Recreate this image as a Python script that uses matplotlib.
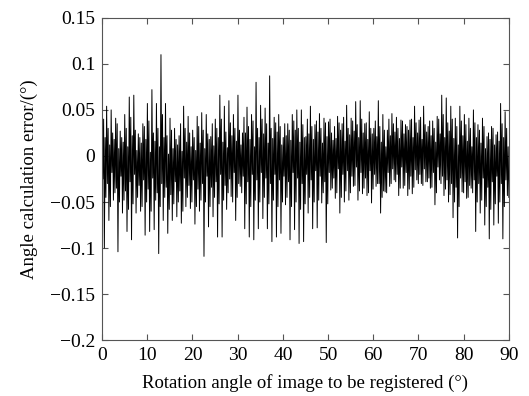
import numpy as np
import matplotlib
matplotlib.use('Agg')
import matplotlib.pyplot as plt

plt.rcParams['font.family'] = ['Liberation Serif', 'DejaVu Serif']

# upper spike of each 1-degree step (deg 0..89)
peak_hi = [0.097, 0.054, 0.050, 0.041, 0.027, 0.045, 0.064, 0.066, 0.024, 0.035,
           0.057, 0.072, 0.057, 0.110, 0.057, 0.041, 0.030, 0.022, 0.054, 0.043,
           0.028, 0.043, 0.047, 0.045, 0.021, 0.040, 0.066, 0.054, 0.060, 0.045,
           0.066, 0.025, 0.053, 0.045, 0.080, 0.055, 0.052, 0.087, 0.042, 0.045,
           0.020, 0.035, 0.045, 0.050, 0.050, 0.021, 0.054, 0.034, 0.046, 0.041,
           0.037, 0.017, 0.043, 0.035, 0.055, 0.041, 0.059, 0.060, 0.035, 0.048,
           0.030, 0.060, 0.045, 0.028, 0.046, 0.042, 0.039, 0.034, 0.039, 0.054,
           0.039, 0.054, 0.032, 0.038, 0.043, 0.066, 0.063, 0.054, 0.041, 0.054,
           0.045, 0.041, 0.050, 0.034, 0.041, 0.021, 0.032, 0.023, 0.057, 0.048]

# lower spike of each step
peak_lo = [-0.100, -0.070, -0.048, -0.104, -0.062, -0.082, -0.091, -0.062, -0.060, -0.086,
           -0.082, -0.080, -0.106, -0.070, -0.084, -0.070, -0.066, -0.073, -0.055, -0.057,
           -0.074, -0.060, -0.109, -0.077, -0.066, -0.088, -0.088, -0.058, -0.044, -0.070,
           -0.033, -0.079, -0.088, -0.091, -0.079, -0.068, -0.079, -0.093, -0.088, -0.084,
           -0.053, -0.091, -0.080, -0.095, -0.093, -0.062, -0.079, -0.078, -0.051, -0.094,
           -0.037, -0.046, -0.062, -0.050, -0.048, -0.033, -0.048, -0.041, -0.043, -0.051,
           -0.033, -0.062, -0.039, -0.033, -0.026, -0.043, -0.035, -0.043, -0.041, -0.026,
           -0.030, -0.028, -0.035, -0.053, -0.026, -0.043, -0.050, -0.067, -0.089, -0.039,
           -0.046, -0.035, -0.082, -0.062, -0.075, -0.090, -0.075, -0.073, -0.090, -0.043]

# medium strokes
mid_hi = [0.040, 0.030, 0.025, 0.035, 0.020, 0.030, 0.042, 0.028, 0.020, 0.032,
          0.038, 0.025, 0.030, 0.045, 0.022, 0.028, 0.018, 0.035, 0.030, 0.025,
          0.020, 0.032, 0.028, 0.024, 0.035, 0.030, 0.040, 0.026, 0.036, 0.030,
          0.028, 0.042, 0.032, 0.038, 0.030, 0.040, 0.035, 0.030, 0.036, 0.032,
          0.035, 0.028, 0.038, 0.030, 0.034, 0.040, 0.032, 0.038, 0.030, 0.036,
          0.040, 0.032, 0.036, 0.042, 0.030, 0.038, 0.034, 0.040, 0.036, 0.030,
          0.038, 0.032, 0.028, 0.040, 0.035, 0.030, 0.038, 0.032, 0.040, 0.036,
          0.042, 0.034, 0.038, 0.030, 0.040, 0.045, 0.036, 0.040, 0.032, 0.038,
          0.034, 0.030, 0.036, 0.028, 0.032, 0.025, 0.030, 0.026, 0.035, 0.030]

mid_lo = [-0.045, -0.055, -0.040, -0.050, -0.048, -0.058, -0.052, -0.045, -0.055, -0.050,
          -0.060, -0.048, -0.055, -0.045, -0.058, -0.052, -0.050, -0.060, -0.045, -0.050,
          -0.055, -0.048, -0.050, -0.055, -0.045, -0.052, -0.048, -0.040, -0.050, -0.045,
          -0.040, -0.052, -0.055, -0.048, -0.050, -0.045, -0.052, -0.048, -0.055, -0.050,
          -0.045, -0.055, -0.050, -0.058, -0.052, -0.045, -0.050, -0.048, -0.040, -0.052,
          -0.035, -0.040, -0.045, -0.038, -0.040, -0.032, -0.038, -0.035, -0.040, -0.036,
          -0.030, -0.045, -0.040, -0.030, -0.028, -0.035, -0.032, -0.036, -0.034, -0.030,
          -0.032, -0.028, -0.034, -0.040, -0.030, -0.036, -0.042, -0.050, -0.055, -0.040,
          -0.045, -0.040, -0.050, -0.048, -0.055, -0.058, -0.052, -0.050, -0.055, -0.045]

# small in-between values (dense core)
core_a = [0.020, 0.012, 0.018, 0.008, 0.015, 0.010, 0.022, 0.006, 0.014, 0.018,
          0.004, 0.016, 0.010, 0.020, 0.002, 0.008, 0.012, 0.005, 0.015, 0.010,
          0.006, 0.014, 0.008, 0.018, 0.011, 0.020, 0.015, 0.009, 0.022, 0.016,
          0.012, 0.025, 0.018, 0.010, 0.020, 0.024, 0.014, 0.019, 0.026, 0.012,
          0.022, 0.017, 0.028, 0.015, 0.020, 0.024, 0.018, 0.026, 0.014, 0.021,
          0.025, 0.019, 0.028, 0.016, 0.023, 0.027, 0.020, 0.025, 0.018, 0.024,
          0.021, 0.015, 0.010, 0.022, 0.026, 0.019, 0.024, 0.028, 0.020, 0.025,
          0.018, 0.026, 0.022, 0.015, 0.024, 0.020, 0.027, 0.019, 0.012, 0.022,
          0.016, 0.010, 0.020, 0.014, 0.008, 0.018, 0.012, 0.016, 0.020, 0.010]

core_b = [-0.025, -0.030, -0.018, -0.035, -0.022, -0.038, -0.028, -0.020, -0.032, -0.026,
          -0.036, -0.024, -0.040, -0.030, -0.034, -0.042, -0.028, -0.038, -0.024, -0.032,
          -0.026, -0.036, -0.030, -0.022, -0.034, -0.028, -0.020, -0.032, -0.025, -0.018,
          -0.030, -0.022, -0.028, -0.020, -0.026, -0.018, -0.024, -0.030, -0.020, -0.026,
          -0.022, -0.028, -0.018, -0.024, -0.030, -0.020, -0.026, -0.016, -0.022, -0.028,
          -0.018, -0.024, -0.014, -0.020, -0.016, -0.022, -0.012, -0.018, -0.024, -0.016,
          -0.020, -0.030, -0.038, -0.018, -0.014, -0.020, -0.012, -0.018, -0.022, -0.015,
          -0.020, -0.014, -0.024, -0.018, -0.012, -0.022, -0.026, -0.030, -0.034, -0.024,
          -0.028, -0.032, -0.026, -0.030, -0.024, -0.034, -0.028, -0.022, -0.030, -0.026]

yticks = [-0.2, -0.15, -0.1, -0.05, 0, 0.05, 0.1, 0.15]
ytick_labels = ['\u22120.2', '\u22120.15', '\u22120.1', '\u22120.05', '0', '0.05', '0.1', '0.15']
xticks = [0, 10, 20, 30, 40, 50, 60, 70, 80, 90]

# six samples per degree
err = np.column_stack([peak_hi, core_b, mid_hi, peak_lo, core_a, mid_lo]).ravel()
angle = np.linspace(0, 90, len(err))

fig = plt.figure(figsize=(5.29, 3.96), dpi=100)
ax = fig.add_axes([0.193, 0.141, 0.769, 0.814])
ax.plot(angle, err, color='black', linewidth=0.7)

ax.set_xlim(0, 90)
ax.set_ylim(-0.2, 0.15)
ax.set_xticks(xticks)
ax.set_yticks(yticks)
ax.set_yticklabels(ytick_labels)
ax.tick_params(direction='in', top=True, right=True, labelsize=14, length=4,
               color='#555555', pad=5)
for s in ax.spines.values():
    s.set_color('#555555')
ax.set_xlabel('Rotation angle of image to be registered (\u00b0)', fontsize=13.5, labelpad=7)
ax.set_ylabel('Angle calculation error/(\u00b0)', fontsize=13.5, labelpad=9)

plt.savefig('out.png', dpi=100)
